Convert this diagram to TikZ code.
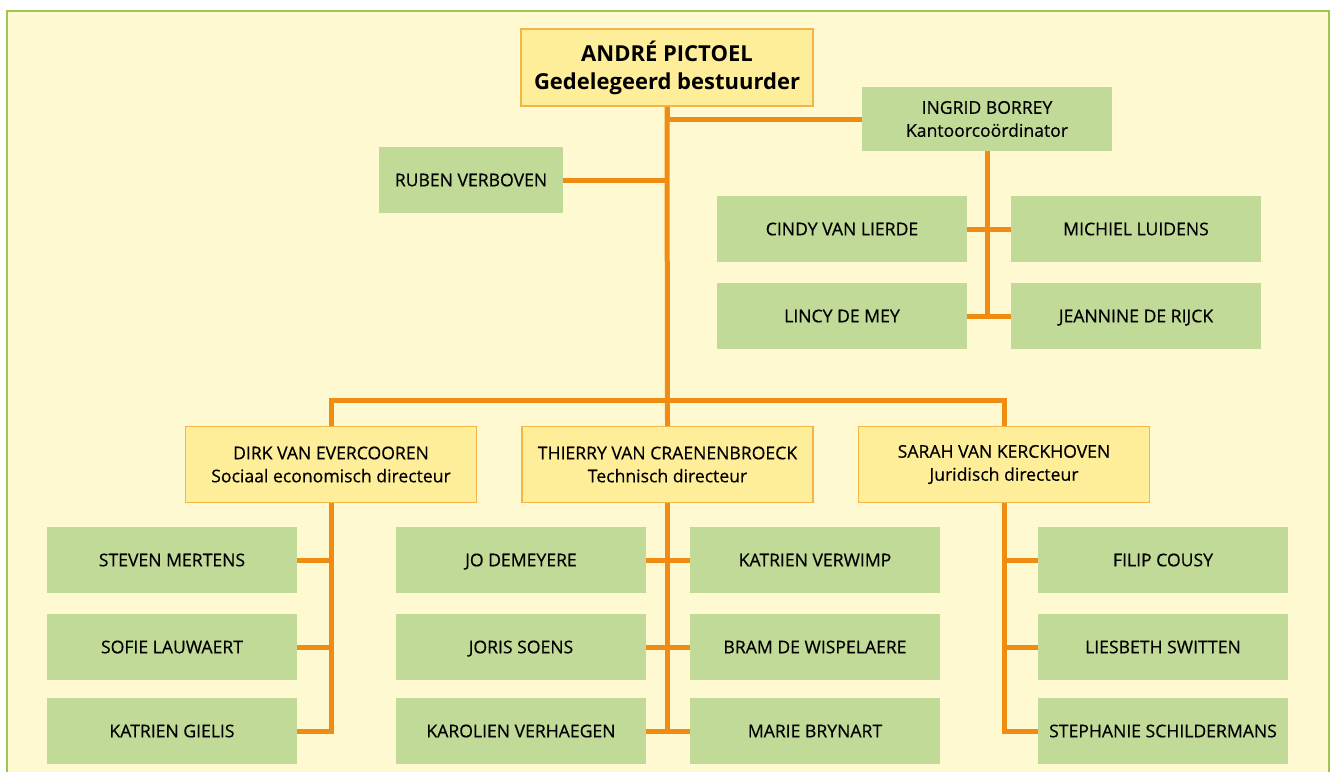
\documentclass[tikz,border=0pt]{standalone}
\usepackage{fontspec}
\setmainfont{Open Sans}
\newfontfamily\medfont{Open Sans}[FakeBold=0.5]
\definecolor{bgyellow}{HTML}{FFF9D2}
\definecolor{frame}{HTML}{9CC752}
\definecolor{boxyellow}{HTML}{FFEE99}
\definecolor{boxborder}{HTML}{F5B447}
\definecolor{boxgreen}{HTML}{C2DA98}
\definecolor{link}{HTML}{F08C14}
\begin{document}
\begin{tikzpicture}[x=1pt,y=-1pt,
  lead/.style={draw=boxborder,line width=1.2pt,fill=boxyellow,minimum width=291pt,minimum height=76pt,inner sep=0pt,align=center,font=\medfont\fontsize{17.6}{23}\selectfont},
  staff/.style={fill=boxgreen,minimum width=250pt,minimum height=66pt,inner sep=0pt,align=center,font=\medfont\fontsize{17.6}{23}\selectfont},
  single/.style={staff,text height=12.6pt,text depth=0pt},
  conn/.style={draw=link,line width=5pt}]
\useasboundingbox (0,0) rectangle (1333,771);
\fill[bgyellow] (7,11) rectangle (1329,775);
\draw[frame,line width=2pt] (7,775) -- (7,11) -- (1329,11) -- (1329,775);

\node[lead,minimum width=292pt,minimum height=77pt,font=\rmfamily\fontsize{22}{28}\selectfont\bfseries] (top) at (667,67.5) {ANDRÉ PICTOEL\\Gedelegeerd bestuurder};
\node[staff,minimum height=64pt] (ingrid) at (987,119) {INGRID BORREY\\Kantoorcoördinator};
\node[single,minimum width=184pt] (ruben) at (471,180) {RUBEN VERBOVEN};
\node[single] (cindy) at (842,229) {CINDY VAN LIERDE};
\node[single] (michiel) at (1136,229) {MICHIEL LUIDENS};
\node[single] (lincy) at (842,316) {LINCY DE MEY};
\node[single] (jeannine) at (1136,316) {JEANNINE DE RIJCK};

\node[lead] (dirk) at (331,464.5) {DIRK VAN EVERCOOREN\\Sociaal economisch directeur};
\node[lead] (thierry) at (667.5,464.5) {THIERRY VAN CRAENENBROECK\\Technisch directeur};
\node[lead] (sarah) at (1004,464.5) {SARAH VAN KERCKHOVEN\\Juridisch directeur};

\node[single] (mertens) at (172,560) {STEVEN MERTENS};
\node[single] (lauwaert) at (172,647) {SOFIE LAUWAERT};
\node[single] (gielis) at (172,731) {KATRIEN GIELIS};
\node[single] (demeyere) at (521,560) {JO DEMEYERE};
\node[single] (soens) at (521,647) {JORIS SOENS};
\node[single] (verhaegen) at (521,731) {KAROLIEN VERHAEGEN};
\node[single] (verwimp) at (815,560) {KATRIEN VERWIMP};
\node[single] (wispelaere) at (815,647) {BRAM DE WISPELAERE};
\node[single] (brynart) at (815,731) {MARIE BRYNART};
\node[single] (cousy) at (1163,560) {FILIP COUSY};
\node[single] (switten) at (1163,647) {LIESBETH SWITTEN};
\node[single] (schildermans) at (1163,731) {STEPHANIE SCHILDERMANS};

\coordinate (bar) at (667,400);
\draw[conn] (top.south) -- (thierry.north);
\draw[conn] (ingrid.west) -| (top.south);
\draw[conn] (ruben.east) -- (ruben.east -| top.south);
\draw[conn] (dirk.north) |- (bar) -| (sarah.north);

\draw[conn] (ingrid.south) -- (ingrid.south |- jeannine.west);
\draw[conn] (cindy.east) -- (michiel.west);
\draw[conn] (lincy.east) -- (jeannine.west);

\draw[conn] (dirk.south) |- (gielis.east);
\draw[conn] (mertens.east) -- (mertens.east -| dirk.south);
\draw[conn] (lauwaert.east) -- (lauwaert.east -| dirk.south);

\draw[conn] (thierry.south) -- (thierry.south |- verhaegen.east);
\draw[conn] (demeyere.east) -- (verwimp.west);
\draw[conn] (soens.east) -- (wispelaere.west);
\draw[conn] (verhaegen.east) -- (brynart.west);

\draw[conn] (sarah.south) |- (schildermans.west);
\draw[conn] (cousy.west) -- (cousy.west -| sarah.south);
\draw[conn] (switten.west) -- (switten.west -| sarah.south);
\end{tikzpicture}
\end{document}
